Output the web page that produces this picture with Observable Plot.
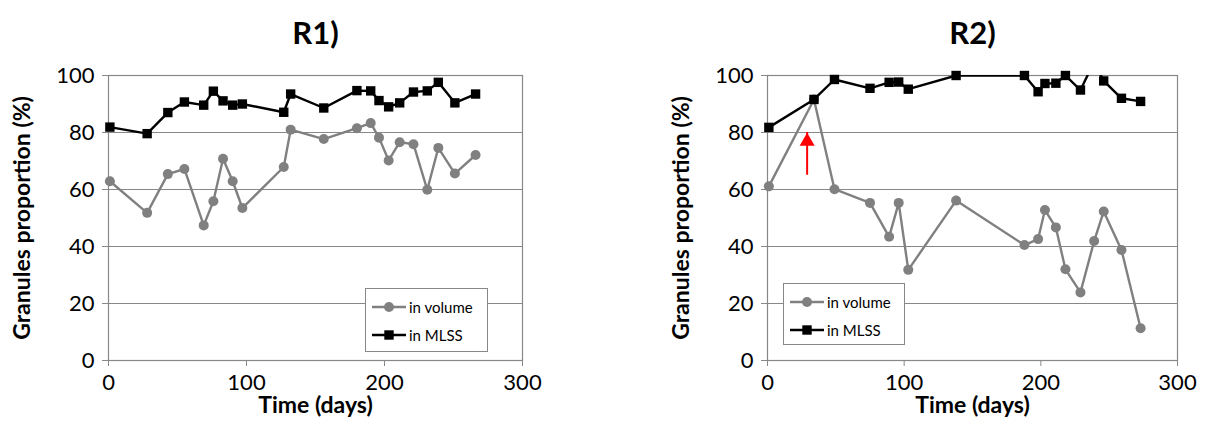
<!DOCTYPE html>
<html><head><meta charset="utf-8">
<script src="https://cdn.jsdelivr.net/npm/d3@7"></script>
<script src="https://cdn.jsdelivr.net/npm/@observablehq/plot@0.6"></script>
<style>
body{margin:0;background:#fff;font-family:Lato,"Open Sans",sans-serif;}
#wrap{position:relative;width:1214px;height:436px;overflow:hidden;}
.panel{position:absolute;top:0;}
.legend{position:absolute;background:#fff;border:1px solid #888;box-sizing:border-box;font:15px Lato,sans-serif;color:#000;padding:4px 0 0 6px;}
.legend .row{display:flex;align-items:center;height:28px;}
.legend svg{margin-right:3px;}
</style></head>
<body><div id="wrap"></div>
<script>
// ---- data ----
const xTicks = [0, 100, 200, 300];
const yTicks = [0, 20, 40, 60, 80, 100];
const seriesNames = ["in volume", "in MLSS"];
const titles = ["R1)", "R2)"];
const xLabel = "Time (days)";
const yLabel = "Granules proportion (%)";

const r1Days   = [1, 28, 43, 55, 69, 76, 83, 90, 97, 127, 132, 156, 180, 190, 196, 203, 211, 221, 231, 239, 251, 266];
const r1Volume = [62.9, 51.8, 65.4, 67.2, 47.4, 55.9, 70.8, 62.9, 53.5, 67.9, 81.0, 77.7, 81.5, 83.3, 78.2, 70.2, 76.6, 75.9, 59.9, 74.6, 65.6, 72.1];
const r1Mlss   = [81.9, 79.6, 87.0, 90.7, 89.6, 94.5, 91.1, 89.6, 90.0, 87.1, 93.5, 88.6, 94.7, 94.6, 91.2, 89.0, 90.4, 94.2, 94.6, 97.6, 90.4, 93.5];

const r2Days   = [1, 34, 49, 75, 89, 96, 103, 138, 188, 198, 203, 211, 218, 229, 239, 246, 259, 273];
const r2Volume = [61.1, 91.6, 60.1, 55.3, 43.4, 55.3, 31.8, 56.1, 40.5, 42.6, 52.8, 46.7, 32.0, 23.9, 41.9, 52.3, 38.8, 11.3];
const r2Mlss   = [81.8, 91.6, 98.6, 95.5, 97.6, 97.7, 95.2, 100, 100, 94.3, 97.2, 97.3, 100, 94.9, 104.8, 98.1, 92.0, 90.9];

// red arrow in R2 (day, from value, to value)
const arrowDay = [29];
const arrowFrom = [65];
const arrowTo = [80];

// ---- drawing ----
const GRID = "#888";
const GRAY = "#808080";
const W = 607, H = 436;

function rows(days, vals) { return days.map((d, i) => ({day: d, value: vals[i]})); }

function chart(cfg) {
  const vol = rows(cfg.days, cfg.volume);
  const mlss = rows(cfg.days, cfg.mlss);
  const marks = [
    Plot.gridY(yTicks, {stroke: GRID, strokeOpacity: 1, strokeWidth: 1.2}),
    Plot.frame({stroke: GRID, strokeWidth: 1.2}),
    Plot.axisY(yTicks, {tickSize: 6, tickPadding: 8, stroke: GRID, fill: "#000", fontSize: 22, label: null}),
    Plot.axisX(xTicks, {tickSize: 6, tickPadding: 8, stroke: GRID, fill: "#000", fontSize: 22, label: null}),
    Plot.line(vol, {x: "day", y: "value", stroke: GRAY, strokeWidth: 2.4, clip: true}),
    Plot.dot(vol, {x: "day", y: "value", r: 5, fill: GRAY, stroke: null}),
    Plot.line(mlss, {x: "day", y: "value", stroke: "#000", strokeWidth: 2.4, clip: true}),
    Plot.dot(mlss, {x: "day", y: "value", symbol: "square", r: 5.3, fill: "#000", stroke: null, filter: d => d.value <= 100}),
    Plot.text([cfg.title], {text: d => d, frameAnchor: "top", dy: -54, fontWeight: "bold", fontSize: 31}),
    Plot.text([yLabel], {text: d => d, frameAnchor: "left", textAnchor: "middle", rotate: -90, dx: -86, fontWeight: "bold", fontSize: 23}),
    Plot.text([xLabel], {text: d => d, frameAnchor: "bottom", dy: 52, fontWeight: "bold", fontSize: 23})
  ];
  if (cfg.arrow) {
    const arr = arrowDay.map((d, i) => ({day: d, from: arrowFrom[i], to: arrowTo[i]}));
    marks.push(Plot.ruleX(arr, {x: "day", y1: "from", y2: "to", stroke: "red", strokeWidth: 2}));
    marks.push(Plot.dot(arr, {x: "day", y: "to", symbol: "triangle", r: 5.6, fill: "red", stroke: null, dy: 9}));
  }
  return Plot.plot({
    width: W, height: H,
    marginLeft: cfg.ml, marginRight: cfg.mr, marginTop: 75, marginBottom: 76,
    x: {domain: [0, 300]},
    y: {domain: [0, 100]},
    style: {fontFamily: "Lato, sans-serif", fontSize: "22px", background: "transparent", color: "#000"},
    marks
  });
}

function legend(left, top, w, h) {
  const el = document.createElement("div");
  el.className = "legend";
  Object.assign(el.style, {left: left + "px", top: top + "px", width: w + "px", height: h + "px"});
  el.innerHTML =
    `<div class="row"><svg width="34" height="14"><line x1="0" x2="34" y1="7" y2="7" stroke="${GRAY}" stroke-width="2.4"/><circle cx="17" cy="7" r="5" fill="${GRAY}"/></svg>${seriesNames[0]}</div>` +
    `<div class="row"><svg width="34" height="14"><line x1="0" x2="34" y1="7" y2="7" stroke="#000" stroke-width="2.4"/><rect x="12.3" y="2.3" width="9.4" height="9.4" fill="#000"/></svg>${seriesNames[1]}</div>`;
  return el;
}

const wrap = document.getElementById("wrap");
const p1 = document.createElement("div"); p1.className = "panel"; p1.style.left = "0px";
p1.appendChild(chart({title: titles[0], days: r1Days, volume: r1Volume, mlss: r1Mlss, ml: 108, mr: 85}));
const p2 = document.createElement("div"); p2.className = "panel"; p2.style.left = "607px";
p2.appendChild(chart({title: titles[1], days: r2Days, volume: r2Volume, mlss: r2Mlss, ml: 160, mr: 37, arrow: true}));
wrap.appendChild(p1); wrap.appendChild(p2);
wrap.appendChild(legend(365, 288, 123, 64));
wrap.appendChild(legend(783, 283, 122, 62));
</script>
</body></html>
